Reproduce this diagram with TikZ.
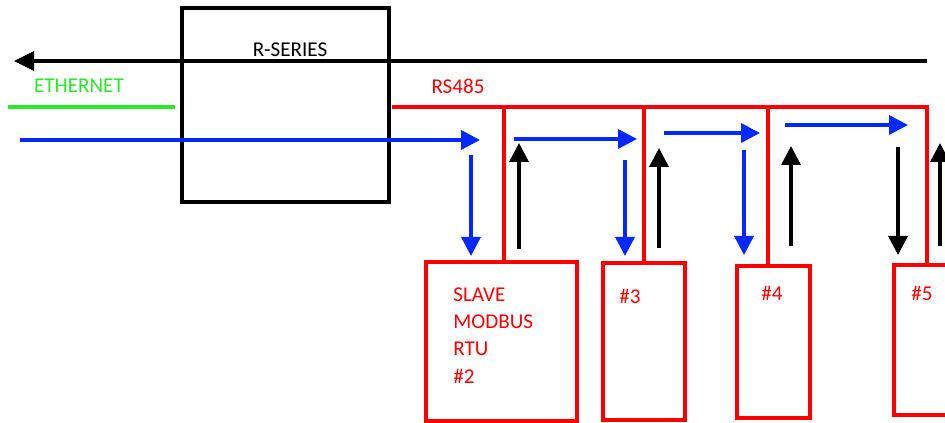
\documentclass[tikz,border=0pt]{standalone}
\usepackage{fontspec}
\setmainfont{Carlito}
\usepackage{tikz}
\usetikzlibrary{arrows.meta, positioning}
\definecolor{buscolor}{RGB}{255,0,0}
\definecolor{ethcolor}{RGB}{40,235,40}
\definecolor{reqcolor}{RGB}{0,40,255}

\begin{document}
\begin{tikzpicture}[
    unit/.style={draw, line width=2pt, minimum width=4.14cm, minimum height=3.88cm, inner sep=0pt},
    slave/.style={draw=buscolor, line width=2.2pt, inner sep=0pt},
    bus/.style={buscolor, line width=2.2pt},
    req/.style={reqcolor, line width=2pt, -{Triangle[length=3.8mm, width=3.8mm]}},
    resp/.style={black, line width=2pt, -{Triangle[length=3.8mm, width=3.8mm]}},
    lbl/.style={font=\fontsize{12}{15.6}\selectfont, inner sep=0pt}
]
    \useasboundingbox (0,0) rectangle (18.9,8.46);

    % Gateway
    \node[unit] (rseries) at (5.71,6.36) {};
    \node[lbl] (rslabel) at (5.80,7.46) {R-SERIES};

    % Slaves
    \node[slave, minimum width=3.02cm, minimum height=3.18cm] (slave2) at (10.03,1.63) {};
    \node[slave, minimum width=1.64cm, minimum height=3.14cm] (slave3) at (12.88,1.63) {};
    \node[slave, minimum width=1.46cm, minimum height=3.04cm] (slave4) at (15.47,1.62) {};
    \node[slave, minimum width=1.60cm, minimum height=3.00cm] (slave5) at (18.68,1.66) {};
    \node[lbl, buscolor, align=left, anchor=north west] (txt2) at (9.06,2.72) {SLAVE\\MODBUS\\RTU\\\#2};
    \node[lbl, buscolor] (txt3) at (12.60,2.54) {\#3};
    \node[lbl, buscolor] (txt4) at (15.44,2.60) {\#4};
    \node[lbl, buscolor] (txt5) at (18.44,2.60) {\#5};

    % Ethernet side
    \node[lbl, ethcolor] (ethlabel) at (1.58,6.74) {ETHERNET};
    \coordinate (eth0) at (0.16,6.32);
    \coordinate (eth1) at (3.50,6.32);
    \draw[ethcolor, line width=2.2pt] (eth0) -- (eth1);

    % RS485 bus
    \node[lbl, buscolor] (buslabel) at (9.16,6.74) {RS485};
    \coordinate (busstart) at (7.84,6.32);
    \coordinate (tap2) at (10.08,6.32);
    \coordinate (tap3) at (12.88,6.32);
    \coordinate (tap4) at (15.36,6.32);
    \coordinate (tap5) at (18.54,6.32);
    \draw[bus] (busstart) -- (tap5) -- (tap5 |- slave5.north);
    \draw[bus] (tap2) -- (tap2 |- slave2.north);
    \draw[bus] (tap3) -- (tap3 |- slave3.north);
    \draw[bus] (tap4) -- (tap4 |- slave4.north);

    % Reply back to the network
    \coordinate (top0) at (18.54,7.24);
    \coordinate (top1) at (0.28,7.24);
    \draw[black, line width=1.8pt, -{Triangle[length=4mm, width=3.8mm]}] (top0) -- (top1);

    % Requests
    \coordinate (q0) at (0.40,5.66);
    \coordinate (q1) at (9.60,5.66);
    \draw[req] (q0) -- (q1);
    \coordinate (q2) at (10.28,5.68);
    \coordinate (q3) at (12.74,5.68);
    \draw[req] (q2) -- (q3);
    \coordinate (q4) at (13.28,5.80);
    \coordinate (q5) at (15.20,5.80);
    \draw[req] (q4) -- (q5);
    \coordinate (q6) at (15.70,5.96);
    \coordinate (q7) at (18.16,5.96);
    \draw[req] (q6) -- (q7);

    % Down to the slaves
    \coordinate (d2) at (9.42,5.36);
    \coordinate (d3) at (12.50,5.26);
    \coordinate (d4) at (14.88,5.46);
    \coordinate (d5) at (17.96,5.52);
    \draw[req] (d2) -- (d2 |- 0,3.34);
    \draw[req] (d3) -- (d3 |- 0,3.34);
    \draw[req] (d4) -- (d4 |- 0,3.36);
    \draw[resp] (d5) -- (d5 |- 0,3.36);

    % Answers from the slaves
    \coordinate (a2) at (10.38,3.48);
    \coordinate (a3) at (13.18,3.50);
    \coordinate (a4) at (15.82,3.54);
    \coordinate (a5) at (18.80,3.54);
    \draw[resp] (a2) -- (a2 |- 0,5.60);
    \draw[resp] (a3) -- (a3 |- 0,5.50);
    \draw[resp] (a4) -- (a4 |- 0,5.54);
    \draw[resp] (a5) -- (a5 |- 0,5.60);
\end{tikzpicture}
\end{document}
